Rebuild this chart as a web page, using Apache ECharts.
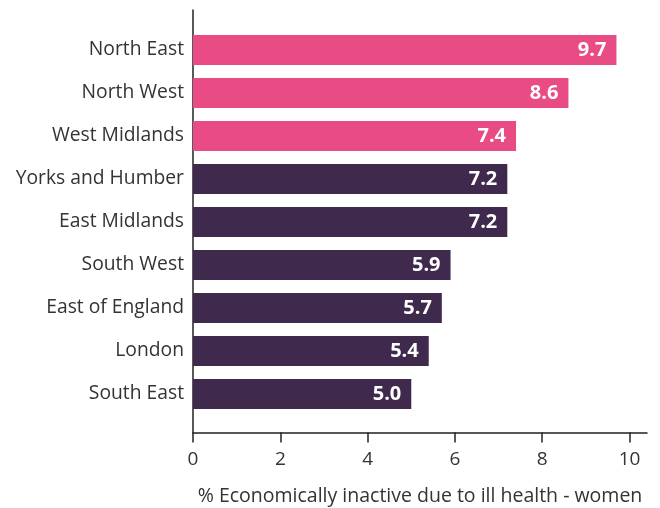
<!DOCTYPE html>
<html><head><meta charset="utf-8">
<script src="https://cdn.jsdelivr.net/npm/echarts@6/dist/echarts.min.js"></script>
<style>html,body{margin:0;padding:0;background:#fff}#c{width:660px;height:508px}</style>
</head><body><div id="c"></div>
<script>
var categories = ['North East','North West','West Midlands','Yorks and Humber','East Midlands','South West','East of England','London','South East'];
var values = [9.7, 8.6, 7.4, 7.2, 7.2, 5.9, 5.7, 5.4, 5.0];
var highlighted = [true, true, true, false, false, false, false, false, false];
var tickValues = [0, 2, 4, 6, 8, 10];
var axisName = '% Economically inactive due to ill health - women';

var PINK = '#E94B84', PURPLE = '#3F2A4D';
var FONT = 'Open Sans';
var chart = echarts.init(document.getElementById('c'));
chart.setOption({
  animation: false,
  grid: [
    {left: 193, width: 454, top: 28.5, height: 387, outerBoundsMode: 'none', containLabel: false},
    {left: 193, width: 454, top: 10, height: 422.5, outerBoundsMode: 'none', containLabel: false}
  ],
  xAxis: [
    {gridIndex: 0, type: 'value', min: 0, max: 10.4, show: false},
    {gridIndex: 1, type: 'value', min: 0, max: 10.4,
     axisLine: {show: true, lineStyle: {color: '#222', width: 1.5}},
     axisTick: {show: true, length: 10, customValues: tickValues, lineStyle: {color: '#222', width: 1.5}},
     axisLabel: {customValues: tickValues, color: '#333', fontFamily: FONT, fontSize: 19, margin: 18},
     splitLine: {show: false},
     name: axisName, nameLocation: 'middle', nameGap: 54,
     nameTextStyle: {color: '#333', fontFamily: FONT, fontSize: 19.5}}
  ],
  yAxis: [
    {gridIndex: 0, type: 'category', inverse: true, data: categories,
     axisLine: {show: false}, axisTick: {show: false},
     axisLabel: {color: '#333', fontFamily: FONT, fontSize: 19.3, margin: 9, padding: [3, 0, 0, 0]}},
    {gridIndex: 1, type: 'value', min: 0, max: 1,
     axisLine: {show: true, lineStyle: {color: '#222', width: 1.5}},
     axisTick: {show: false}, axisLabel: {show: false}, splitLine: {show: false}}
  ],
  series: [{
    type: 'bar', xAxisIndex: 0, yAxisIndex: 0, barWidth: 30,
    data: values.map(function(v, i){ return {value: v, itemStyle: {color: highlighted[i] ? PINK : PURPLE}}; }),
    label: {show: true, position: 'insideRight', distance: 10, color: '#fff',
            fontFamily: FONT, fontWeight: 'bold', fontSize: 20,
            formatter: function(p){ return p.value.toFixed(1); }}
  }]
});
</script></body></html>
